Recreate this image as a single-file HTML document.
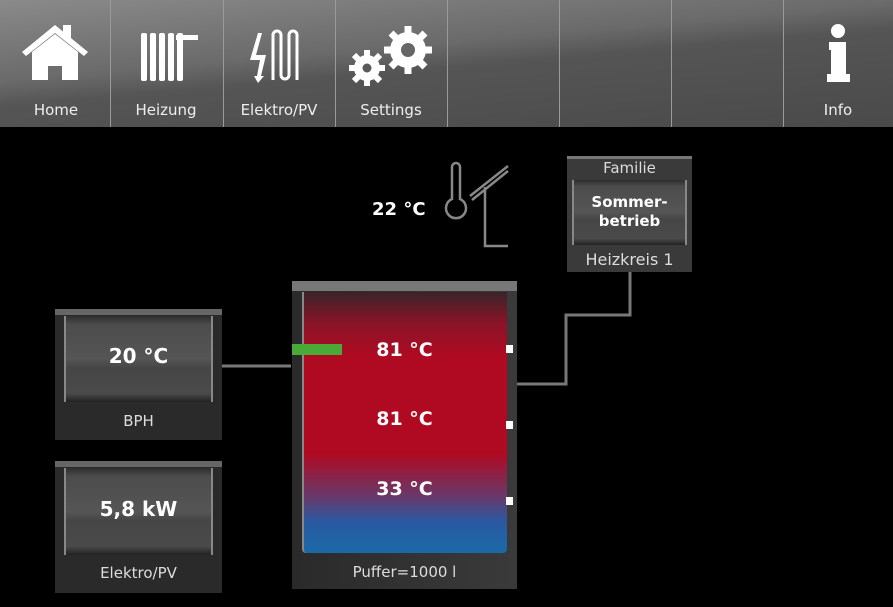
<!DOCTYPE html>
<html><head><meta charset="utf-8"><style>
*{margin:0;padding:0;box-sizing:border-box}
body{width:893px;height:607px;background:#000;position:relative;overflow:hidden;font-family:"DejaVu Sans","Liberation Sans",sans-serif}
.bar{position:absolute;left:0;top:0;width:893px;height:127px;background:linear-gradient(175deg,#8a8a8a 0%,#6a6a6a 40%,#555 52%,#4a4a4a 100%)}
.div{position:absolute;top:0;width:1px;height:127px;background:#9a9a9a}
.lbl{position:absolute;top:101px;color:#eee;font-size:15px;text-align:center;width:112px}
.a{position:absolute}
.box{position:absolute;background:#2a2a2a;border-top:6px solid #666}
.inner{position:absolute;background:linear-gradient(#2e2e2e 0%,#4c4c4c 10%,#555 50%,#464646 60%,#4a4a4a 90%,#222 100%);border-left:2px solid #888;border-right:2px solid #888;color:#fff;font-weight:bold;text-align:center}
.cap{position:absolute;color:#ddd;font-size:15px;text-align:center}
.t{position:absolute;color:#fff;font-weight:bold;font-size:19px;width:205px;text-align:center}
</style></head><body>
<div class="bar"></div>
<div class="div" style="left:110px"></div><div class="div" style="left:223px"></div><div class="div" style="left:335px"></div><div class="div" style="left:447px"></div><div class="div" style="left:559px"></div><div class="div" style="left:671px"></div><div class="div" style="left:783px"></div>
<div class="lbl" style="left:0">Home</div>
<div class="lbl" style="left:110px">Heizung</div>
<div class="lbl" style="left:223px">Elektro/PV</div>
<div class="lbl" style="left:335px">Settings</div>
<div class="lbl" style="left:783px;width:110px">Info</div>
<svg class="a" style="left:0;top:0" width="893" height="607">
<g fill="#fff" stroke="none">
<polygon points="22,52 55,25 88,52 84,56 55,33 26,56"/>
<rect x="63" y="25" width="8" height="14"/>
<polygon points="32,52 55,34 78,52 78,80 62,80 62,66 48,66 48,80 32,80"/>
<rect x="141" y="33" width="6" height="48" rx="2"/><rect x="150" y="33" width="6" height="48" rx="2"/><rect x="159" y="33" width="6" height="48" rx="2"/><rect x="168" y="33" width="6" height="48" rx="2"/><rect x="177" y="33" width="6" height="48" rx="2"/>
<rect x="176" y="35" width="22" height="5"/>
<polygon points="258,33 262,33 256,55 266,55 261,76 264,76 258,83 254,76 257,76 260,60 250,60"/>
<circle cx="838" cy="31" r="7"/>
<polygon points="829,42 846,42 846,74 850,74 850,82 827,82 827,74 831,74 831,50 829,50"/>
</g>
<path d="M273,80 V35 a4,4 0 0 1 8,0 V75 a4,4 0 0 0 8,0 V35 a4,4 0 0 1 8,0 V80" fill="none" stroke="#fff" stroke-width="3"/>
<g fill="#fff">
<circle cx="367" cy="68" r="13"/>
<g stroke="#fff" stroke-width="6"><line x1="367" y1="50" x2="367" y2="86"/><line x1="349" y1="68" x2="385" y2="68"/><line x1="354" y1="55" x2="380" y2="81"/><line x1="380" y1="55" x2="354" y2="81"/></g>
<circle cx="408" cy="50" r="18"/>
<g stroke="#fff" stroke-width="7"><line x1="408" y1="26" x2="408" y2="74"/><line x1="384" y1="50" x2="432" y2="50"/><line x1="391" y1="33" x2="425" y2="67"/><line x1="425" y1="33" x2="391" y2="67"/></g>
</g>
<circle cx="367" cy="68" r="4.5" fill="#5a5a5a"/><circle cx="408" cy="50" r="7" fill="#666"/>
<g stroke="#777" stroke-width="3" fill="none">
<line x1="222" y1="366" x2="291" y2="366"/>
<polyline points="517,384 566,384 566,315 630,315 630,272"/>
</g>
<g stroke="#888" stroke-width="2.5" fill="none">
<path d="M452,167 a4,4 0 0 1 8,0 V199 a10,10 0 1 1 -8,0 Z"/>
<line x1="470" y1="196" x2="508" y2="166"/><line x1="472" y1="200" x2="508" y2="171"/>
<polyline points="485,187 485,246 508,246"/>
</g>
</svg>
<div class="a" style="left:372px;top:199px;color:#fff;font-weight:bold;font-size:18px">22 °C</div>
<div class="a" style="left:567px;top:156px;width:125px;height:116px;background:#3a3a3a;border-top:3px solid #777"></div>
<div class="cap" style="left:567px;top:159px;width:125px;font-size:15px">Familie</div>
<div class="inner" style="left:572px;top:180px;width:115px;height:65px;font-size:15px;padding-top:13px;line-height:19px">Sommer-<br>betrieb</div>
<div class="cap" style="left:567px;top:250px;width:125px;font-size:16px">Heizkreis 1</div>
<div class="box" style="left:55px;top:309px;width:167px;height:131px"></div>
<div class="inner" style="left:64px;top:316px;width:149px;height:86px;font-size:20px;padding-top:28px">20 °C</div>
<div class="cap" style="left:55px;top:412px;width:167px">BPH</div>
<div class="box" style="left:55px;top:461px;width:167px;height:132px"></div>
<div class="inner" style="left:64px;top:468px;width:149px;height:87px;font-size:20px;padding-top:29px">5,8 kW</div>
<div class="cap" style="left:55px;top:564px;width:167px">Elektro/PV</div>
<div class="a" style="left:292px;top:281px;width:225px;height:308px;background:linear-gradient(90deg,#2a2a2a,#3a3a3a);border-top:10px solid #777"></div>
<div class="a" style="left:302px;top:292px;width:205px;height:261px;border-radius:0 0 4px 4px;border-left:2px solid #888;background:linear-gradient(#3a2328 0%,#8a1428 12%,#b00a22 25%,#b00a22 62%,#6a3868 78%,#2a58a0 88%,#1a6aa8 100%)"></div>
<div class="a" style="left:292px;top:344px;width:50px;height:11px;background:#4aaa38"></div>
<div class="a" style="left:506px;top:345px;width:7px;height:8px;background:#fff"></div>
<div class="a" style="left:506px;top:421px;width:7px;height:8px;background:#fff"></div>
<div class="a" style="left:506px;top:497px;width:7px;height:8px;background:#fff"></div>
<div class="t" style="left:302px;top:339px">81 °C</div>
<div class="t" style="left:302px;top:408px">81 °C</div>
<div class="t" style="left:302px;top:478px">33 °C</div>
<div class="cap" style="left:292px;top:563px;width:225px">Puffer=1000 l</div>
</body></html>
